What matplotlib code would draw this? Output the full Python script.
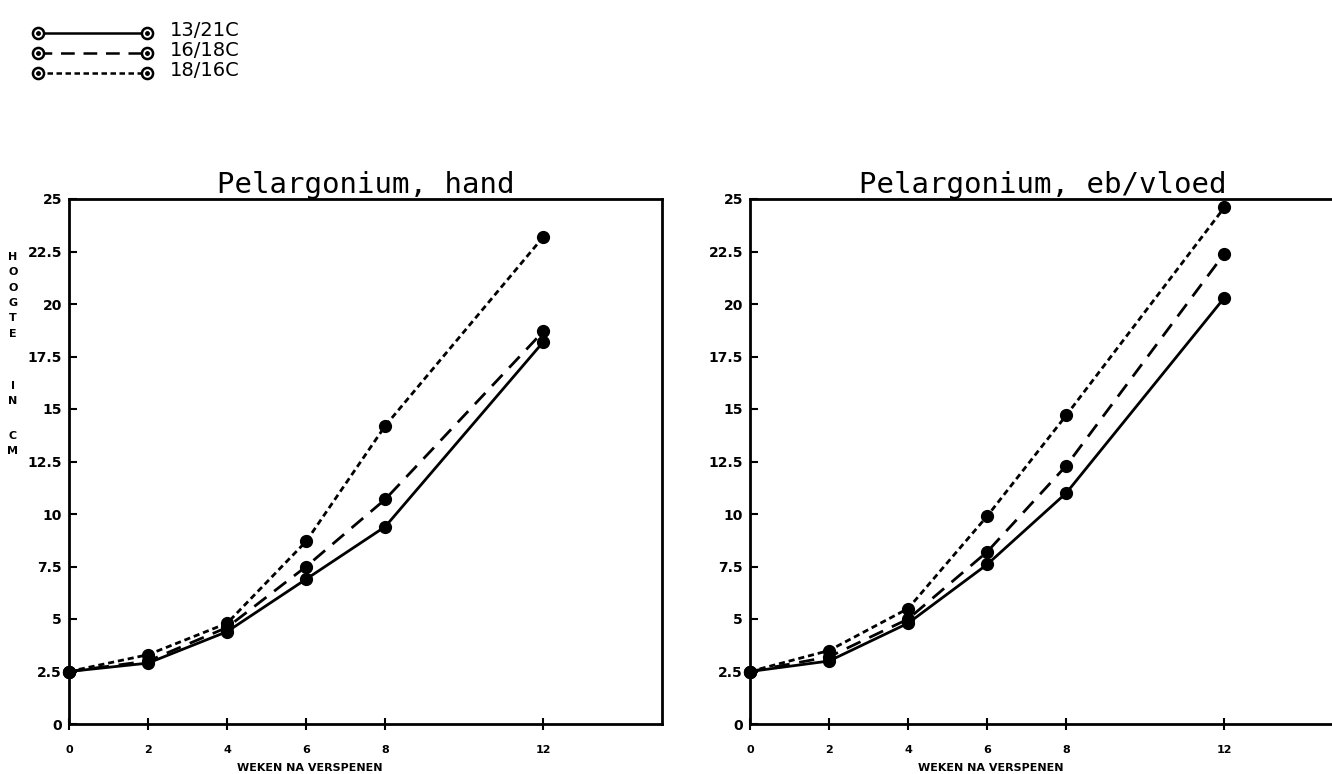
import matplotlib
matplotlib.use("Agg")
import matplotlib.pyplot as plt
from matplotlib.lines import Line2D

# ---- data ----
weeks = [0, 2, 4, 6, 8, 12]
xtick_vals = [0, 2, 4, 6, 8, 12]
xtick_labels = ["0", "2", "4", "6", "8", "12"]
ytick_vals = [0, 2.5, 5, 7.5, 10, 12.5, 15, 17.5, 20, 22.5, 25]
ytick_labels = ["0", "2.5", "5", "7.5", "10", "12.5", "15", "17.5", "20", "22.5", "25"]
series_names = ["13/21C", "16/18C", "18/16C"]

hand_13_21 = [2.5, 2.9, 4.4, 6.9, 9.4, 18.2]
hand_16_18 = [2.5, 3.0, 4.6, 7.5, 10.7, 18.7]
hand_18_16 = [2.5, 3.3, 4.8, 8.7, 14.2, 23.2]

eb_13_21 = [2.5, 3.0, 4.8, 7.6, 11.0, 20.3]
eb_16_18 = [2.5, 3.2, 5.0, 8.2, 12.3, 22.4]
eb_18_16 = [2.5, 3.5, 5.5, 9.9, 14.7, 24.6]

titles = ["Pelargonium, hand", "Pelargonium, eb/vloed"]
xlabel = "WEKEN NA VERSPENEN"
ylabel_letters = ["H", "O", "O", "G", "T", "E", "I", "N", "C", "M"]

# ---- styles ----
styles = [dict(linestyle="-"),
          dict(linestyle=(0, (5.5, 3.5))),
          dict(linestyle=(0, (2.2, 1.4)))]

W, H = 1332, 774
fig = plt.figure(figsize=(W / 100, H / 100), dpi=100)
fig.patch.set_facecolor("white")

def px_axes(x0, y0, x1, y1):
    return fig.add_axes([x0 / W, 1 - y1 / H, (x1 - x0) / W, (y1 - y0) / H])

ax_l = px_axes(69, 199, 662, 724)
ax_r = px_axes(750, 199, 1343, 724)

panels = [(ax_l, [hand_13_21, hand_16_18, hand_18_16], titles[0], 0.50),
          (ax_r, [eb_13_21, eb_16_18, eb_18_16], titles[1], 0.494)]

for ax, data, title, tx in panels:
    for vals, st in zip(data, styles):
        ax.plot(weeks, vals, color="black", lw=2.0, marker="o", ms=8.5,
                mfc="black", mec="black", clip_on=False, **st)
    ax.set_xlim(0, 15)
    ax.set_ylim(0, 25)
    ax.set_xticks(xtick_vals)
    ax.set_xticklabels(xtick_labels, fontsize=8, fontweight="bold")
    ax.set_yticks(ytick_vals)
    ax.set_yticklabels(ytick_labels, fontsize=10, fontweight="bold")
    ax.tick_params(axis="y", direction="in", length=6, width=1.5, pad=5)
    ax.tick_params(axis="x", direction="inout", length=8, width=1.5, pad=11)
    for s in ax.spines.values():
        s.set_linewidth(2)
    ax.text(6.1, -1.85, xlabel, ha="center", va="top",
            fontsize=8, fontweight="bold")
    ax.text(tx, 1.011, title, transform=ax.transAxes, ha="center",
            va="baseline", fontsize=21, family="DejaVu Sans Mono")

# vertical y label letters
ypos = [257, 272, 288, 303, 318, 334, 386, 401, 436, 451]
for ch, yy in zip(ylabel_letters, ypos):
    fig.text(13 / W, 1 - yy / H, ch, ha="center", va="center",
             fontsize=8, fontweight="bold")

# manual legend
rows = [33, 53, 73]
for name, st, yy in zip(series_names, styles, rows):
    yf = 1 - yy / H
    fig.add_artist(Line2D([38 / W, 147 / W], [yf, yf], transform=fig.transFigure,
                          color="black", lw=1.8, **st))
    for xx in (38, 147):
        fig.add_artist(Line2D([xx / W], [yf], transform=fig.transFigure,
                              marker="o", ms=8, mfc="white", mec="black", mew=1.8,
                              linestyle="none"))
        fig.add_artist(Line2D([xx / W], [yf], transform=fig.transFigure,
                              marker="o", ms=2.5, mfc="black", mec="black",
                              linestyle="none"))
    fig.text(170 / W, yf + 3 / H, name, ha="left", va="center", fontsize=14)

fig.savefig("out.png", dpi=100)
